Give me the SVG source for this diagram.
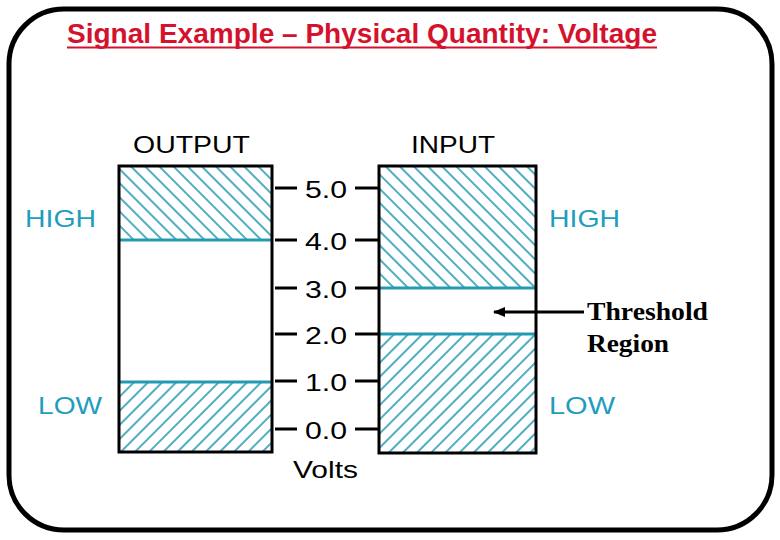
<svg xmlns="http://www.w3.org/2000/svg" width="780" height="540" viewBox="0 0 780 540">
<style>
.frame{fill:#fff;stroke:#000;stroke-width:5}
.box{fill:none;stroke:#000;stroke-width:3}
.sep{stroke:#2499b3;stroke-width:3}
.tick{stroke:#000;stroke-width:3}
.lab{font-family:"Liberation Sans",Arial,sans-serif;font-size:24px;fill:#000}
.teal{font-family:"Liberation Sans",Arial,sans-serif;font-size:24px;fill:#1f9dbd}
.thr{font-family:"Liberation Serif","Times New Roman",serif;font-size:25px;font-weight:bold;fill:#000}
.title{font-family:"Liberation Sans",Arial,sans-serif;font-size:27px;font-weight:bold;fill:#d4122e}
.conn{stroke:#000;stroke-width:3;fill:none}
</style>
<defs>
<pattern id="hatchBack" patternUnits="userSpaceOnUse" width="10" height="10" patternTransform="rotate(-45)">
<line x1="5" y1="-2" x2="5" y2="12" stroke="#2499b3" stroke-width="1.6"/>
</pattern>
<pattern id="hatchFwd" patternUnits="userSpaceOnUse" width="10" height="10" patternTransform="rotate(45)">
<line x1="5" y1="-2" x2="5" y2="12" stroke="#2499b3" stroke-width="1.6"/>
</pattern>
<marker id="arr" markerUnits="userSpaceOnUse" markerWidth="12" markerHeight="10" refX="11" refY="5" orient="auto">
<path d="M0,0 L12,5 L0,10 Z" fill="#000"/>
</marker>
</defs>
<rect class="frame" x="9" y="9" width="763" height="521" rx="55" ry="55"/>
<g id="title">
<text class="title" x="67" y="43" textLength="590" lengthAdjust="spacingAndGlyphs">Signal Example – Physical Quantity: Voltage</text>
<line x1="67" y1="47.5" x2="657" y2="47.5" stroke="#d4122e" stroke-width="2"/>
</g>
<g id="output">
<text class="lab" x="133" y="153" textLength="117" lengthAdjust="spacingAndGlyphs">OUTPUT</text>
<rect x="119" y="166" width="153" height="74" fill="url(#hatchBack)"/>
<rect x="119" y="382" width="153" height="70" fill="url(#hatchFwd)"/>
<line class="sep" x1="119" y1="240" x2="272" y2="240"/>
<line class="sep" x1="119" y1="382" x2="272" y2="382"/>
<rect class="box" x="119" y="166" width="153" height="286"/>
<text class="teal" x="25" y="227" textLength="71" lengthAdjust="spacingAndGlyphs">HIGH</text>
<text class="teal" x="38" y="414" textLength="64" lengthAdjust="spacingAndGlyphs">LOW</text>
</g>
<g id="input">
<text class="lab" x="411" y="153" textLength="84" lengthAdjust="spacingAndGlyphs">INPUT</text>
<rect x="379" y="166" width="157" height="122" fill="url(#hatchBack)"/>
<rect x="379" y="334" width="157" height="119" fill="url(#hatchFwd)"/>
<line class="sep" x1="379" y1="288" x2="536" y2="288"/>
<line class="sep" x1="379" y1="334" x2="536" y2="334"/>
<rect class="box" x="379" y="166" width="157" height="287"/>
<text class="teal" x="549" y="227" textLength="71" lengthAdjust="spacingAndGlyphs">HIGH</text>
<text class="teal" x="549" y="414" textLength="66" lengthAdjust="spacingAndGlyphs">LOW</text>
</g>
<g id="scale">
<g class="tick">
<line x1="275" y1="188" x2="297" y2="188"/><line x1="355" y1="188" x2="379" y2="188"/>
<line x1="275" y1="240" x2="297" y2="240"/><line x1="355" y1="240" x2="379" y2="240"/>
<line x1="275" y1="288" x2="297" y2="288"/><line x1="355" y1="288" x2="379" y2="288"/>
<line x1="275" y1="334" x2="297" y2="334"/><line x1="355" y1="334" x2="379" y2="334"/>
<line x1="275" y1="381" x2="297" y2="381"/><line x1="355" y1="381" x2="379" y2="381"/>
<line x1="275" y1="429" x2="297" y2="429"/><line x1="355" y1="429" x2="379" y2="429"/>
</g>
<text class="lab" x="305" y="198" textLength="42" lengthAdjust="spacingAndGlyphs">5.0</text>
<text class="lab" x="305" y="250" textLength="42" lengthAdjust="spacingAndGlyphs">4.0</text>
<text class="lab" x="305" y="298" textLength="42" lengthAdjust="spacingAndGlyphs">3.0</text>
<text class="lab" x="305" y="344" textLength="42" lengthAdjust="spacingAndGlyphs">2.0</text>
<text class="lab" x="305" y="391" textLength="42" lengthAdjust="spacingAndGlyphs">1.0</text>
<text class="lab" x="305" y="439" textLength="42" lengthAdjust="spacingAndGlyphs">0.0</text>
<text class="lab" x="293" y="478" textLength="65" lengthAdjust="spacingAndGlyphs">Volts</text>
</g>
<g id="threshold">
<text class="thr" x="587" y="320" textLength="121" lengthAdjust="spacingAndGlyphs">Threshold</text>
<text class="thr" x="587" y="352" textLength="82" lengthAdjust="spacingAndGlyphs">Region</text>
</g>
<g id="connectors">
<line class="conn" x1="584" y1="312" x2="494" y2="312" marker-end="url(#arr)"/>
</g>
</svg>
